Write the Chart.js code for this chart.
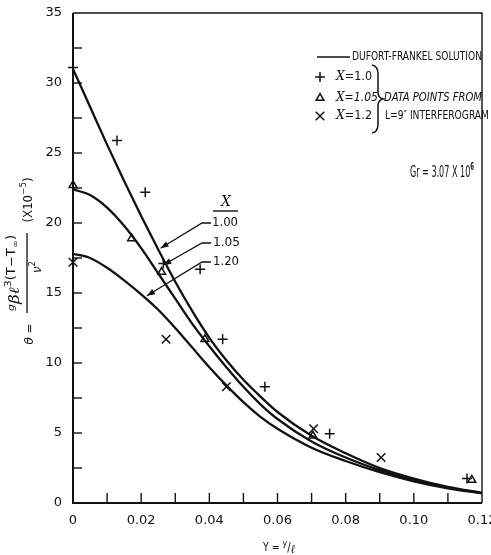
<!DOCTYPE html>
<html>
<head>
<meta charset="utf-8">
<script src="https://cdn.jsdelivr.net/npm/chart.js@4.4.1/dist/chart.umd.min.js"></script>
<style>
  html, body { margin: 0; padding: 0; background: #fff; }
  #wrap { position: relative; width: 491px; height: 555px; }
</style>
</head>
<body>
<div id="wrap"><canvas id="thetaChart"></canvas></div>
<script>
// distance from the wall, Y = y/l
const yPos = [0, 0.005, 0.01, 0.015, 0.02, 0.025, 0.03, 0.035, 0.04, 0.045, 0.05, 0.055, 0.06, 0.07, 0.08, 0.09, 0.10, 0.11, 0.12];
// DuFort-Frankel solution, theta (x10^-5)
const dfX100 = [31.0, 28.3, 25.6, 23.0, 20.5, 18.1, 15.8, 13.7, 11.8, 10.2, 8.8, 7.6, 6.5, 4.8, 3.55, 2.5, 1.75, 1.15, 0.72];
const dfX105 = [22.4, 22.0, 21.1, 19.8, 18.2, 16.4, 14.6, 12.8, 11.2, 9.7, 8.3, 7.05, 6.0, 4.4, 3.25, 2.35, 1.65, 1.1, 0.7];
const dfX120 = [17.8, 17.5, 16.8, 15.9, 14.9, 13.8, 12.5, 11.1, 9.7, 8.4, 7.2, 6.15, 5.3, 3.95, 3.0, 2.2, 1.55, 1.05, 0.7];

// interferogram data points (L = 9")
const ptsX100Y = [0, 0.0129, 0.0212, 0.0265, 0.0373, 0.0439, 0.0563, 0.0753, 0.1156];
const ptsX100T = [31.1, 25.9, 22.2, 17.1, 16.7, 11.7, 8.3, 4.95, 1.75];
const ptsX105Y = [0, 0.0172, 0.026, 0.0387, 0.0704, 0.117];
const ptsX105T = [22.7, 18.9, 16.5, 11.7, 4.8, 1.65];
const ptsX120Y = [0, 0.0273, 0.045, 0.0706, 0.0904];
const ptsX120T = [17.2, 11.7, 8.3, 5.3, 3.25];

// axis ticks
const xTicks = [0, 0.02, 0.04, 0.06, 0.08, 0.10, 0.12];
const yTicks = [0, 5, 10, 15, 20, 25, 30, 35];
const xMinor = [0.01, 0.02, 0.03, 0.04, 0.05, 0.06, 0.07, 0.08, 0.09, 0.10, 0.11];
const yMinor = [2.5, 5, 7.5, 10, 12.5, 15, 17.5, 20, 22.5, 25, 27.5, 30, 32.5];

const INK = "#111";
const FONT = "DejaVu Sans";
const NARROW = '"Liberation Sans Narrow", "DejaVu Sans Condensed", "DejaVu Sans"';

function toXY(xs, ys) {
  return xs.map((x, i) => ({ x: x, y: ys[i] }));
}

function curve(data) {
  return {
    data: data,
    showLine: true,
    borderColor: INK,
    borderWidth: 2.3,
    pointRadius: 0,
    cubicInterpolationMode: "monotone",
    fill: false,
  };
}

function marks(data, style, r) {
  return {
    data: data,
    showLine: false,
    pointStyle: style,
    pointRadius: r,
    pointBorderWidth: 1.5,
    pointBorderColor: INK,
    pointBackgroundColor: "rgba(0,0,0,0)",
    clip: false,
  };
}

// text made of runs with their own size and baseline shift
function drawRuns(ctx, runs, o) {
  ctx.save();
  ctx.translate(o.x, o.y);
  if (o.angle) ctx.rotate(o.angle);
  let total = 0;
  runs.forEach((r) => {
    ctx.font = r.f;
    r.w = ctx.measureText(r.t).width;
    total += r.w;
  });
  if (o.width) ctx.scale(o.width / total, 1);
  let cx = o.align === "left" ? 0 : -total / 2;
  ctx.textAlign = "left";
  ctx.textBaseline = "middle";
  runs.forEach((r) => {
    ctx.font = r.f;
    ctx.fillText(r.t, cx, r.dy || 0);
    cx += r.w;
  });
  ctx.restore();
}

function line(ctx, pts, w) {
  ctx.beginPath();
  ctx.moveTo(pts[0][0], pts[0][1]);
  for (let i = 1; i < pts.length; i++) ctx.lineTo(pts[i][0], pts[i][1]);
  ctx.lineWidth = w;
  ctx.stroke();
}

function arrowHead(ctx, x0, y0, x1, y1, len, half) {
  const a = Math.atan2(y1 - y0, x1 - x0);
  ctx.beginPath();
  ctx.moveTo(x1, y1);
  ctx.lineTo(x1 - len * Math.cos(a) + half * Math.sin(a), y1 - len * Math.sin(a) - half * Math.cos(a));
  ctx.lineTo(x1 - len * Math.cos(a) - half * Math.sin(a), y1 - len * Math.sin(a) + half * Math.cos(a));
  ctx.closePath();
  ctx.fill();
}

const decorations = {
  id: "decorations",
  afterDraw(chart) {
    const ctx = chart.ctx;
    const xs = chart.scales.x;
    const ys = chart.scales.y;
    const a = chart.chartArea;
    ctx.save();
    ctx.strokeStyle = INK;
    ctx.fillStyle = INK;
    ctx.lineCap = "butt";

    // frame
    line(ctx, [[a.left, a.top], [a.right, a.top], [a.right, a.bottom]], 1.4);
    line(ctx, [[a.left, a.top], [a.left, a.bottom], [a.right, a.bottom]], 2);

    // inward ticks
    xMinor.forEach((v) => {
      const px = xs.getPixelForValue(v);
      line(ctx, [[px, a.bottom], [px, a.bottom - 10]], 1.4);
    });
    yMinor.forEach((v) => {
      const py = ys.getPixelForValue(v);
      line(ctx, [[a.left, py], [a.left + 9, py]], 1.4);
    });

    // legend
    line(ctx, [[317, 57], [350, 57]], 1.5);
    drawRuns(ctx, [{ t: "DUFORT-FRANKEL SOLUTION", f: "13px " + NARROW }], { x: 352, y: 57, width: 130, align: "left" });
    const h = Chart.helpers;
    ctx.lineWidth = 1.5;
    ctx.fillStyle = "rgba(0,0,0,0)";
    h.drawPoint(ctx, { pointStyle: "cross", radius: 5, borderWidth: 1.5, rotation: 0 }, 320, 77);
    h.drawPoint(ctx, { pointStyle: "triangle", radius: 4.5, borderWidth: 1.5, rotation: 0 }, 320, 98);
    h.drawPoint(ctx, { pointStyle: "crossRot", radius: 6, borderWidth: 1.5, rotation: 0 }, 320, 116);
    ctx.fillStyle = INK;
    const chi = "italic 13px DejaVu Serif";
    drawRuns(ctx, [{ t: "X", f: chi }, { t: "=1.0", f: "13px " + NARROW }], { x: 336, y: 77, width: 36, align: "left" });
    drawRuns(ctx, [{ t: "X", f: chi }, { t: "=1.05", f: "italic 13px " + NARROW }], { x: 336, y: 98, width: 42, align: "left" });
    drawRuns(ctx, [{ t: "X", f: chi }, { t: "=1.2", f: "13px " + NARROW }], { x: 336, y: 116, width: 36, align: "left" });

    // brace
    ctx.beginPath();
    ctx.moveTo(372, 65);
    ctx.quadraticCurveTo(378, 66, 378, 74);
    ctx.lineTo(378, 92);
    ctx.quadraticCurveTo(378, 98, 383, 99);
    ctx.quadraticCurveTo(378, 100, 378, 106);
    ctx.lineTo(378, 124);
    ctx.quadraticCurveTo(378, 132, 372, 133);
    ctx.lineWidth = 1.5;
    ctx.stroke();

    drawRuns(ctx, [{ t: "DATA POINTS FROM", f: "italic 13px " + NARROW }], { x: 384, y: 98, width: 98, align: "left" });
    drawRuns(ctx, [{ t: "L=9\u2033 INTERFEROGRAM", f: "13px " + NARROW }], { x: 385, y: 116, width: 104, align: "left" });

    drawRuns(ctx, [
      { t: "Gr = 3.07 X 10", f: "15px " + NARROW },
      { t: "6", f: "bold 10px " + NARROW, dy: -6 },
    ], { x: 410, y: 173, width: 64, align: "left" });

    // curve labels and leaders
    drawRuns(ctx, [{ t: "X", f: "italic 14px DejaVu Serif" }], { x: 226, y: 202 });
    line(ctx, [[213, 211], [238, 211]], 1.4);
    drawRuns(ctx, [{ t: "1.00", f: "13px " + NARROW }], { x: 212, y: 223, width: 26, align: "left" });
    drawRuns(ctx, [{ t: "1.05", f: "13px " + NARROW }], { x: 213, y: 243, width: 27, align: "left" });
    drawRuns(ctx, [{ t: "1.20", f: "13px " + NARROW }], { x: 213, y: 262, width: 26, align: "left" });

    const leaders = [
      { y: 223, tip: [0.0257, 18.2] },
      { y: 243, tip: [0.0265, 17.0] },
      { y: 262, tip: [0.0217, 14.8] },
    ];
    leaders.forEach((l) => {
      const tx = xs.getPixelForValue(l.tip[0]);
      const ty = ys.getPixelForValue(l.tip[1]);
      line(ctx, [[211, l.y], [202, l.y], [tx, ty]], 1.3);
      arrowHead(ctx, 202, l.y, tx, ty, 8, 3);
    });

    // y axis title, written bottom to top
    const up = -Math.PI / 2;
    drawRuns(ctx, [{ t: "\u03b8 =", f: "italic 12px " + FONT }], { x: 30, y: 334, angle: up });
    drawRuns(ctx, [
      { t: "g", f: "italic 9px " + FONT, dy: -3 },
      { t: "\u03b2\u2113", f: "italic 14px DejaVu Serif" },
      { t: "3", f: "9px " + FONT, dy: -6 },
      { t: "(T\u2212T", f: "12px " + NARROW, dy: -3 },
      { t: "\u221e", f: "8px " + FONT, dy: 1 },
      { t: ")", f: "12px " + NARROW, dy: -3 },
    ], { x: 15, y: 273, angle: up, width: 76 });
    line(ctx, [[27, 233], [27, 313]], 1.3);
    drawRuns(ctx, [
      { t: "\u03bd", f: "italic 12px " + FONT },
      { t: "2", f: "8px " + FONT, dy: -5 },
    ], { x: 38, y: 267, angle: up });
    drawRuns(ctx, [
      { t: "(X10", f: "12px " + NARROW },
      { t: "\u22125", f: "8px " + FONT, dy: -5 },
      { t: ")", f: "12px " + NARROW },
    ], { x: 29, y: 200, angle: up, width: 45 });

    // x axis title
    drawRuns(ctx, [
      { t: "Y = ", f: "12px " + NARROW },
      { t: "y", f: "9px " + FONT, dy: -4 },
      { t: "/", f: "12px " + FONT },
      { t: "\u2113", f: "italic 12px DejaVu Serif", dy: 2 },
    ], { x: 279, y: 548, width: 32 });

    ctx.restore();
  },
};

const ctx = document.getElementById("thetaChart").getContext("2d");
new Chart(ctx, {
  type: "scatter",
  data: {
    datasets: [
      curve(toXY(yPos, dfX100)),
      curve(toXY(yPos, dfX105)),
      curve(toXY(yPos, dfX120)),
      marks(toXY(ptsX100Y, ptsX100T), "cross", 5),
      marks(toXY(ptsX105Y, ptsX105T), "triangle", 4.5),
      marks(toXY(ptsX120Y, ptsX120T), "crossRot", 6),
    ],
  },
  options: {
    responsive: true,
    maintainAspectRatio: false,
    animation: false,
    devicePixelRatio: 1,
    layout: { padding: { left: 0, right: 9, top: 13, bottom: 0 } },
    plugins: {
      legend: { display: false },
      tooltip: { enabled: false },
    },
    scales: {
      x: {
        type: "linear",
        min: 0,
        max: 0.12,
        grid: { display: false, drawTicks: false },
        border: { display: false },
        afterBuildTicks: (s) => { s.ticks = xTicks.map((v) => ({ value: v })); },
        afterFit: (s) => { s.height = 52; s.paddingLeft = 0; s.paddingRight = 0; },
        ticks: {
          color: INK,
          padding: 10,
          maxRotation: 0,
          font: { family: FONT, size: 13 },
          callback: (v) => (v === 0 ? "0" : v.toFixed(2)),
        },
      },
      y: {
        type: "linear",
        min: 0,
        max: 35,
        grid: { display: false, drawTicks: false },
        border: { display: false },
        afterBuildTicks: (s) => { s.ticks = yTicks.map((v) => ({ value: v })); },
        afterFit: (s) => { s.width = 73; s.paddingTop = 0; s.paddingBottom = 0; },
        ticks: {
          color: INK,
          padding: 11,
          font: { family: FONT, size: 13 },
          callback: (v) => String(v),
        },
      },
    },
  },
  plugins: [decorations],
});
</script>
</body>
</html>
